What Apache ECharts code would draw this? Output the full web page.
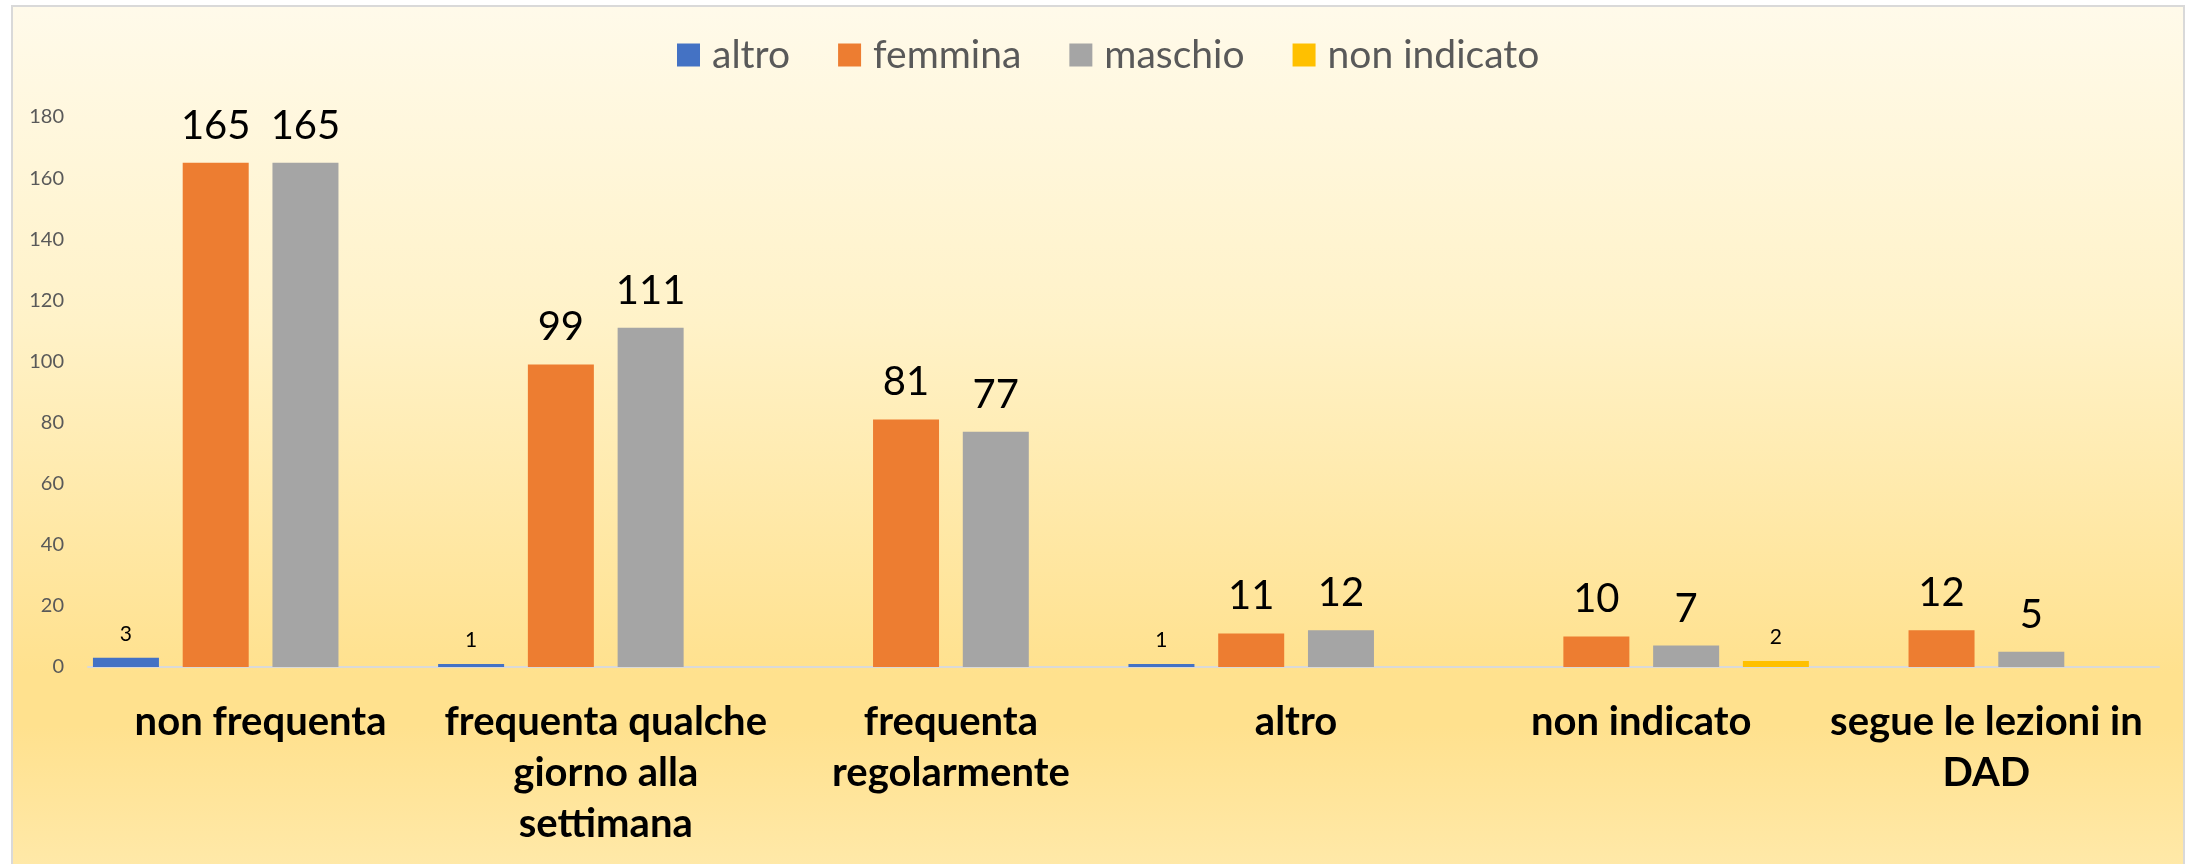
<!DOCTYPE html>
<html>
<head>
<meta charset="utf-8">
<script src="https://cdn.jsdelivr.net/npm/echarts@6/dist/echarts.min.js"></script>
<style>
  html, body { margin: 0; padding: 0; background: #ffffff; width: 2190px; height: 864px; overflow: hidden; }
  #frame {
    position: absolute; left: 11px; top: 5px; width: 2170px; height: 900px;
    border: 2px solid #D9D9D9;
    background: linear-gradient(to bottom, #FFFAEA 0%, #FFF2C8 35%, #FFE18E 74%, #FFE18E 80%, #FFEBB0 100%);
  }
  #chart { position: absolute; left: 0; top: 0; width: 2190px; height: 864px; }
</style>
</head>
<body>
<div id="frame"></div>
<div id="chart"></div>
<script>
const categories = ["non frequenta", "frequenta qualche giorno alla settimana", "frequenta regolarmente", "altro", "non indicato", "segue le lezioni in DAD"];
const tickLabels = ["non frequenta", "frequenta qualche\ngiorno alla\nsettimana", "frequenta\nregolarmente", "altro", "non indicato", "segue le lezioni in\nDAD"];
const seriesNames = ["altro", "femmina", "maschio", "non indicato"];
const altro = [3, 1, null, 1, null, null];
const femmina = [165, 99, 81, 11, 10, 12];
const maschio = [165, 111, 77, 12, 7, 5];
const nonIndicato = [null, null, null, null, 2, null];
const yTicks = { min: 0, max: 180, interval: 20 };

const colors = ["#4472C4", "#ED7D31", "#A5A5A5", "#FFC000"];
const values = [altro, femmina, maschio, nonIndicato];
const labelSizes = [21, 40, 40, 21];
const labelDist = [13, 17, 17, 13];

const chart = echarts.init(document.getElementById('chart'), null, { renderer: 'canvas' });
chart.setOption({
  backgroundColor: 'transparent',
  animation: false,
  textStyle: { fontFamily: 'Lato' },
  legend: {
    data: seriesNames,
    top: 30,
    left: 672,
    itemWidth: 23,
    itemHeight: 23,
    itemGap: 48,
    icon: 'rect',
    textStyle: { fontSize: 39, color: '#595959', fontFamily: 'Lato', lineHeight: 40, padding: [0, 0, 0, 7] }
  },
  grid: { left: 88, right: 31, top: 117, bottom: 197, containLabel: false },
  xAxis: {
    type: 'category',
    data: categories,
    axisLine: { show: true, lineStyle: { color: '#D9D9D9', width: 2 } },
    axisTick: { show: false },
    axisLabel: {
      interval: 0,
      margin: 30,
      fontSize: 40,
      fontWeight: 'bold',
      color: '#000000',
      lineHeight: 51,
      fontFamily: 'Lato',
      formatter: (v, i) => tickLabels[i]
    }
  },
  yAxis: {
    type: 'value',
    min: yTicks.min,
    max: yTicks.max,
    interval: yTicks.interval,
    axisLine: { show: false },
    axisTick: { show: false },
    splitLine: { show: false },
    axisLabel: { fontSize: 20, color: '#595959', margin: 24, fontFamily: 'Lato' }
  },
  series: seriesNames.map((name, i) => ({
    name: name,
    type: 'bar',
    data: values[i],
    barWidth: 66,
    barGap: '36%',
    itemStyle: { color: colors[i] },
    label: {
      show: true,
      position: 'top',
      distance: labelDist[i],
      fontSize: labelSizes[i],
      color: '#000000',
      fontFamily: 'Lato'
    }
  }))
});
</script>
</body>
</html>
